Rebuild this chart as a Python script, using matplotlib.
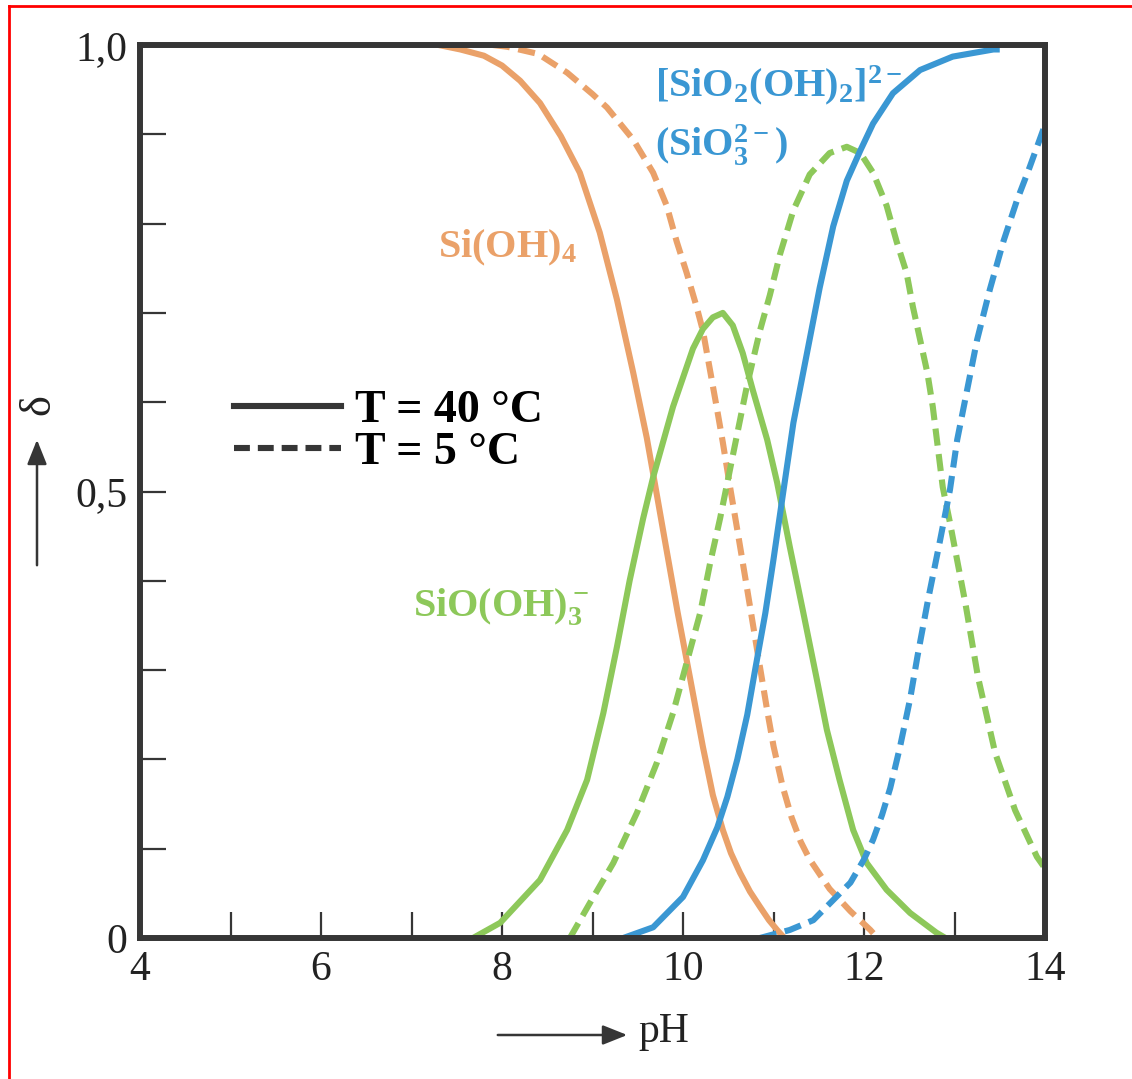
import matplotlib
matplotlib.use('AGG')

import matplotlib.pyplot as plt
from matplotlib.lines import Line2D
from matplotlib.patches import FancyArrowPatch

# Si(OH)4 fraction, T = 40 C and T = 5 C
ph_h4_40 = [7.3, 7.54, 7.8, 8.0, 8.2, 8.42, 8.65, 8.86, 9.08, 9.27, 9.45, 9.60, 9.67,
            9.80, 9.94, 10.08, 10.22, 10.33, 10.44, 10.53, 10.63, 10.74, 10.85, 10.95,
            11.04, 11.12]
d_h4_40 = [1.0, 0.995, 0.988, 0.977, 0.96, 0.935, 0.898, 0.857, 0.79, 0.715, 0.633, 0.56,
           0.52, 0.445, 0.365, 0.29, 0.214, 0.16, 0.121, 0.095, 0.073, 0.052, 0.035,
           0.02, 0.009, 0.0]
ph_h4_5 = [7.9, 8.06, 8.4, 8.72, 9.0, 9.16, 9.45, 9.67, 9.82, 9.93, 10.04, 10.15, 10.22,
           10.30, 10.38, 10.44, 10.52, 10.62, 10.71, 10.82, 10.93, 11.0, 11.1, 11.2,
           11.3, 11.4, 11.62, 11.85, 12.07, 12.15]
d_h4_5 = [1.0, 0.998, 0.99, 0.969, 0.945, 0.93, 0.894, 0.857, 0.82, 0.78, 0.745, 0.707,
          0.68, 0.635, 0.59, 0.555, 0.505, 0.445, 0.39, 0.322, 0.255, 0.215, 0.17, 0.135,
          0.108, 0.088, 0.055, 0.03, 0.009, 0.0]

# SiO(OH)3- fraction
ph_h3_40 = [7.68, 7.98, 8.42, 8.72, 8.94, 9.12, 9.27, 9.41, 9.56, 9.67, 9.89, 10.11,
            10.22, 10.33, 10.44, 10.55, 10.66, 10.77, 10.93, 11.04, 11.18, 11.33, 11.48,
            11.59, 11.73, 11.88, 12.03, 12.25, 12.51, 12.80, 12.9]
d_h3_40 = [0.0, 0.017, 0.065, 0.121, 0.177, 0.252, 0.326, 0.40, 0.47, 0.516, 0.595, 0.66,
           0.682, 0.695, 0.70, 0.686, 0.655, 0.614, 0.558, 0.51, 0.438, 0.364, 0.289,
           0.233, 0.177, 0.121, 0.084, 0.054, 0.028, 0.006, 0.0]
ph_h3_5 = [8.75, 8.97, 9.23, 9.49, 9.71, 9.89, 10.04, 10.19, 10.30, 10.41, 10.55, 10.71,
           10.85, 10.96, 11.07, 11.22, 11.40, 11.62, 11.81, 11.96, 12.10, 12.25, 12.36,
           12.47, 12.54, 12.62, 12.70, 12.76, 12.87, 12.95, 13.12, 13.26, 13.45, 13.67,
           13.91, 14.0]
d_h3_5 = [0.0, 0.039, 0.084, 0.14, 0.196, 0.252, 0.308, 0.364, 0.42, 0.47, 0.54, 0.62,
          0.68, 0.72, 0.765, 0.815, 0.855, 0.879, 0.886, 0.879, 0.857, 0.82, 0.78,
          0.745, 0.707, 0.67, 0.633, 0.595, 0.505, 0.465, 0.375, 0.292, 0.207, 0.143,
          0.091, 0.078]

# [SiO2(OH)2]2- fraction
ph_h2_40 = [9.34, 9.67, 10.0, 10.22, 10.38, 10.49, 10.60, 10.71, 10.80, 10.91, 11.0,
            11.1, 11.22, 11.37, 11.51, 11.66, 11.81, 11.96, 12.10, 12.32, 12.62, 12.98,
            13.43, 13.5]
d_h2_40 = [0.0, 0.012, 0.046, 0.087, 0.124, 0.158, 0.2, 0.25, 0.302, 0.364, 0.424,
           0.494, 0.577, 0.655, 0.728, 0.797, 0.848, 0.882, 0.912, 0.946, 0.972, 0.987,
           0.995, 0.995]
ph_h2_5 = [10.85, 11.18, 11.44, 11.85, 12.0, 12.10, 12.2, 12.29, 12.40, 12.51, 12.59,
           12.71, 12.84, 12.95, 13.03, 13.14, 13.25, 13.39, 13.54, 13.69, 13.83, 13.98,
           14.0]
d_h2_5 = [0.0, 0.009, 0.02, 0.062, 0.088, 0.11, 0.138, 0.168, 0.215, 0.268, 0.315,
          0.38, 0.445, 0.502, 0.558, 0.614, 0.67, 0.726, 0.78, 0.826, 0.863, 0.905, 0.91]

x_ticks = list(range(4, 15))
x_ticklabels = ['4', '', '6', '', '8', '', '10', '', '12', '', '14']
y_ticks = [0.0, 0.1, 0.2, 0.3, 0.4, 0.5, 0.6, 0.7, 0.8, 0.9, 1.0]
y_ticklabels = ['0', '', '', '', '', '0,5', '', '', '', '', '1,0']

orange = '#EAA169'
green = '#8DC85A'
blue = '#3A97D3'
dark = '#363636'

plt.rcParams['font.family'] = 'Liberation Serif'
plt.rcParams['mathtext.fontset'] = 'custom'
plt.rcParams['mathtext.rm'] = 'Liberation Serif:bold'
plt.rcParams['mathtext.it'] = 'Liberation Serif:bold'
plt.rcParams['mathtext.bf'] = 'Liberation Serif:bold'

W, H = 1132, 1079
fig = plt.figure(figsize=(W / 100, H / 100), dpi=100)
ax = fig.add_axes([140 / W, 141 / H, 905 / W, 893 / H])

lw = 4.4
dash = (0, (2.8, 1.4))
ax.plot(ph_h4_40, d_h4_40, color=orange, lw=lw, solid_capstyle='butt')
ax.plot(ph_h4_5, d_h4_5, color=orange, lw=lw, ls=dash)
ax.plot(ph_h3_40, d_h3_40, color=green, lw=lw, solid_capstyle='butt')
ax.plot(ph_h3_5, d_h3_5, color=green, lw=lw, ls=dash)
ax.plot(ph_h2_40, d_h2_40, color=blue, lw=lw, solid_capstyle='butt')
ax.plot(ph_h2_5, d_h2_5, color=blue, lw=lw, ls=dash)

ax.set_xlim(4, 14)
ax.set_ylim(0, 1)
ax.set_xticks(x_ticks)
ax.set_xticklabels(x_ticklabels)
ax.set_yticks(y_ticks)
ax.set_yticklabels(y_ticklabels)
ax.tick_params(direction='in', length=19, width=1.6, color=dark, labelsize=30,
               labelcolor='#222222', pad=9)
for sp in ax.spines.values():
    sp.set_linewidth(4.3)
    sp.set_color(dark)

lab = dict(fontsize=29, fontweight='bold', va='center', ha='left')
ax.text(7.29, 0.773, 'Si(OH)$_4$', color=orange, **lab)
ax.text(7.02, 0.37, 'SiO(OH)$_3^-$', color=green, **lab)
ax.text(9.69, 0.955, '[SiO$_2$(OH)$_2$]$^{2-}$', color=blue, **lab)
ax.text(9.69, 0.888, '(SiO$_3^{2-}$)', color=blue, **lab)

handles = [Line2D([], [], color=dark, lw=lw),
           Line2D([], [], color=dark, lw=lw, ls=(0, (2.6, 1.3)))]
ax.legend(handles, ['T = 40 °C', 'T = 5 °C'], loc='upper left',
          bbox_to_anchor=(0.058, 0.66), frameon=False, handlelength=2.35,
          handletextpad=0.3, labelspacing=0.0,
          prop={'family': 'Liberation Serif', 'weight': 'bold', 'size': 33})

# axis labels drawn as arrows
fig.text(38 / W, 1 - 405 / H, 'δ', fontsize=32, rotation=90, ha='center', va='center',
         color='#222222')
fig.add_artist(FancyArrowPatch(
    (37 / W, 1 - 568 / H), (37 / W, 1 - 437 / H), transform=fig.transFigure,
    arrowstyle='-|>,head_length=10,head_width=4', lw=1.8, color=dark,
    mutation_scale=1.5))
fig.add_artist(FancyArrowPatch(
    (495 / W, 1 - 1035 / H), (630 / W, 1 - 1035 / H), transform=fig.transFigure,
    arrowstyle='-|>,head_length=10,head_width=4', lw=1.8, color=dark,
    mutation_scale=1.5))
fig.text(638 / W, 1 - 1032 / H, 'pH', fontsize=30, ha='left', va='center',
         color='#222222')

# red frame of the scan
fig.add_artist(Line2D([9 / W, 9 / W], [0, 1 - 6 / H], transform=fig.transFigure,
                      color='red', lw=2))
fig.add_artist(Line2D([9 / W, 1], [1 - 6 / H, 1 - 6 / H], transform=fig.transFigure,
                      color='red', lw=2))

fig.savefig('out.png', dpi=100)
